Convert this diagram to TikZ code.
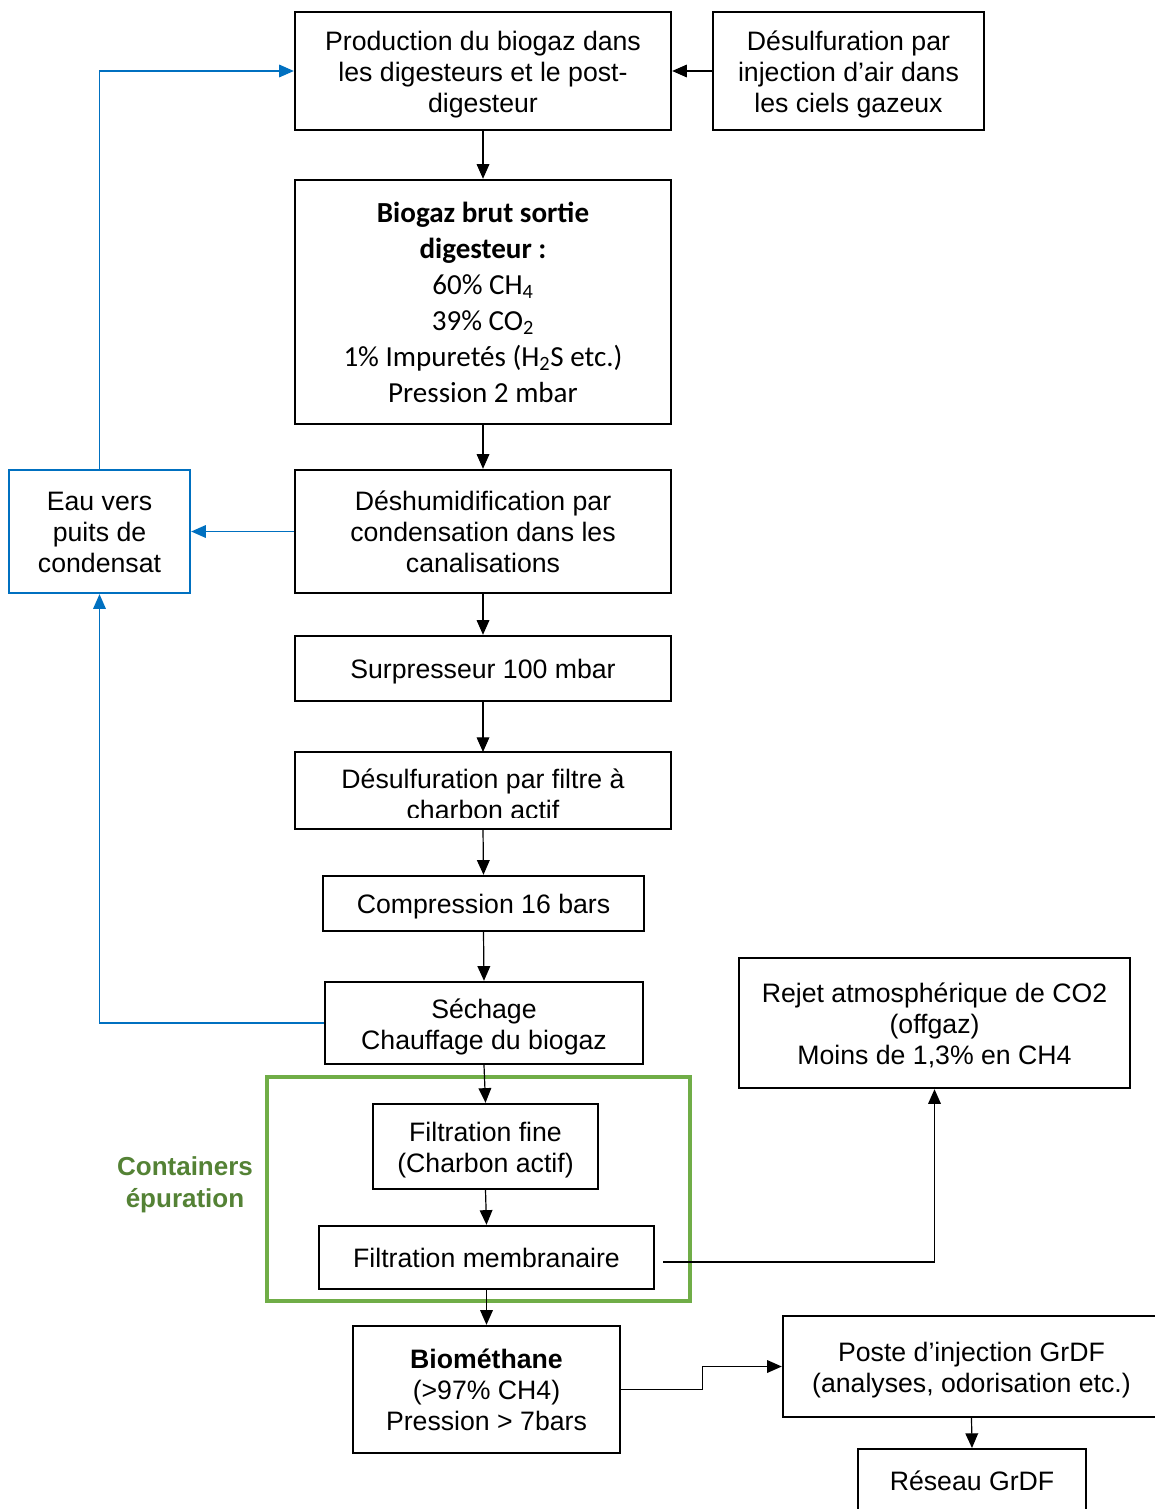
\documentclass[tikz,border=0pt]{standalone}
\usepackage{fontspec}
\setmainfont{Liberation Sans}
\newfontfamily\carl{Carlito}
\usetikzlibrary{arrows.meta}
\definecolor{ablue}{HTML}{0070C0}
\definecolor{agreen}{HTML}{70AD47}
\definecolor{tgreen}{HTML}{548235}
\begin{document}
\begin{tikzpicture}[x=0.75pt,y=-0.75pt,
  box/.style={draw=black,line width=1.8pt,fill=white,inner sep=0pt},
  bbox/.style={box,draw=ablue},
  txt/.style={align=center,inner sep=0pt,font=\fontsize{20}{23.25}\selectfont},
  conn/.style={line width=0.9pt,-{Triangle[length=11pt,width=9.5pt]}},
  bconn/.style={conn,draw=ablue,-{Triangle[length=11pt,width=9.5pt,fill=ablue]}}]
\useasboundingbox (0,0) rectangle (1155,1509);

\node[box,minimum width=282pt,minimum height=88.5pt,
  label={[txt,yshift=-3pt]center:{Production du biogaz dans\\les digesteurs et le post-\\digesteur}}] (prod) at (483,71) {};
\node[box,minimum width=203.25pt,minimum height=88.5pt,
  label={[txt,yshift=-2.3pt]center:{Désulfuration par\\injection d’air dans\\les ciels gazeux}}] (dair) at (848.5,71) {};
\node[box,minimum width=282pt,minimum height=183pt,
  label={[txt,font=\carl\fontsize{21.8}{27}\selectfont,yshift=-0.5pt]center:{\textbf{Biogaz brut sortie}\\\textbf{digesteur :}\\60\% CH\textsubscript{4}\\39\% CO\textsubscript{2}\\1\% Impuretés (H\textsubscript{2}S etc.)\\Pression 2 mbar}}] (brut) at (483,302) {};
\node[bbox,minimum width=135.75pt,minimum height=92.25pt,
  label={[txt,yshift=-0.8pt]center:{Eau vers\\puits de\\condensat}}] (eau) at (99.5,531.5) {};
\node[box,minimum width=282pt,minimum height=92.25pt,
  label={[txt]center:{Déshumidification par\\condensation dans les\\canalisations}}] (desh) at (483,531.5) {};
\node[box,minimum width=282pt,minimum height=48.75pt,
  label={[txt,yshift=-2.3pt]center:{Surpresseur 100 mbar}}] (surp) at (483,668.5) {};
\node[box,outer sep=0pt,minimum width=282pt,minimum height=57.75pt] (dfil) at (483,790.5) {};
\begin{scope}
  \clip ([yshift=8.6pt]dfil.south west) rectangle (dfil.north east);
  \node[txt] (dfiltxt) at ([yshift=-2.5pt]dfil.center) {Désulfuration par filtre à\\charbon actif};
\end{scope}
\node[box,minimum width=240.75pt,minimum height=41.25pt,
  label={[txt,yshift=-2.3pt]center:{Compression 16 bars}}] (comp) at (483.5,903.5) {};
\node[box,minimum width=238.5pt,minimum height=61.5pt,
  label={[txt,yshift=-3pt]center:{Séchage\\Chauffage du biogaz}}] (sech) at (484,1023) {};

\draw[agreen,line width=2.3pt] (267,1077) rectangle (690,1301);
\node[align=center,inner sep=0pt,text=tgreen,font=\bfseries\fontsize{19.5}{24}\selectfont] (cont) at (185,1185)
  {Containers\\épuration};

\node[box,minimum width=168.75pt,minimum height=63.75pt,
  label={[txt,yshift=-3pt]center:{Filtration fine\\(Charbon actif)}}] (fine) at (485.5,1146.5) {};
\node[box,minimum width=251.25pt,minimum height=47.25pt,
  label={[txt]center:{Filtration membranaire}}] (memb) at (486.5,1257.5) {};
\node[box,minimum width=293.25pt,minimum height=97.5pt,
  label={[txt,yshift=-1.5pt]center:{Rejet atmosphérique de CO2\\(offgaz)\\Moins de 1,3\% en CH4}}] (rejet) at (934.5,1023) {};
\node[box,minimum width=200.25pt,minimum height=95.25pt,
  label={[txt]center:{\textbf{Biométhane}\\(>97\% CH4)\\Pression > 7bars}}] (bio) at (486.5,1389.5) {};
\node[box,minimum width=282.75pt,minimum height=75.75pt,
  label={[txt,yshift=-2.6pt]center:{Poste d’injection GrDF\\(analyses, odorisation etc.)}}] (poste) at (971.5,1366.5) {};
\node[box,minimum width=171pt,minimum height=61.5pt,anchor=north] (reseau) at (972,1448) {};
\node[txt] (resTxt) at (972,1481) {Réseau GrDF};

% connectors
\draw[conn] (dair.west) -- (prod.east);
\draw[conn] (prod.south) -- (brut.north);
\draw[conn] (brut.south) -- (desh.north);
\draw[conn] (desh.south) -- (surp.north);
\draw[conn] (surp.south) -- (dfil.north);
\draw[conn] (dfil.south) -- (comp.north);
\draw[conn] (comp.south) -- (sech.north);
\draw[conn] (sech.south) -- (fine.north);
\draw[conn] (fine.south) -- (memb.north);
\draw[conn] (memb.south) -- (bio.north);
\draw[conn] ([xshift=6pt,yshift=-3.4pt]memb.east) -| (rejet.south);
\draw[conn] (bio.east) -- ++(81,0) |- (poste.west);
\draw[conn] (poste.south) -- (reseau.north);

\draw[bconn] (desh.west) -- (eau.east);
\draw[bconn] (eau.north) |- (prod.west);
\draw[bconn] (sech.west) -| (eau.south);
\end{tikzpicture}
\end{document}
